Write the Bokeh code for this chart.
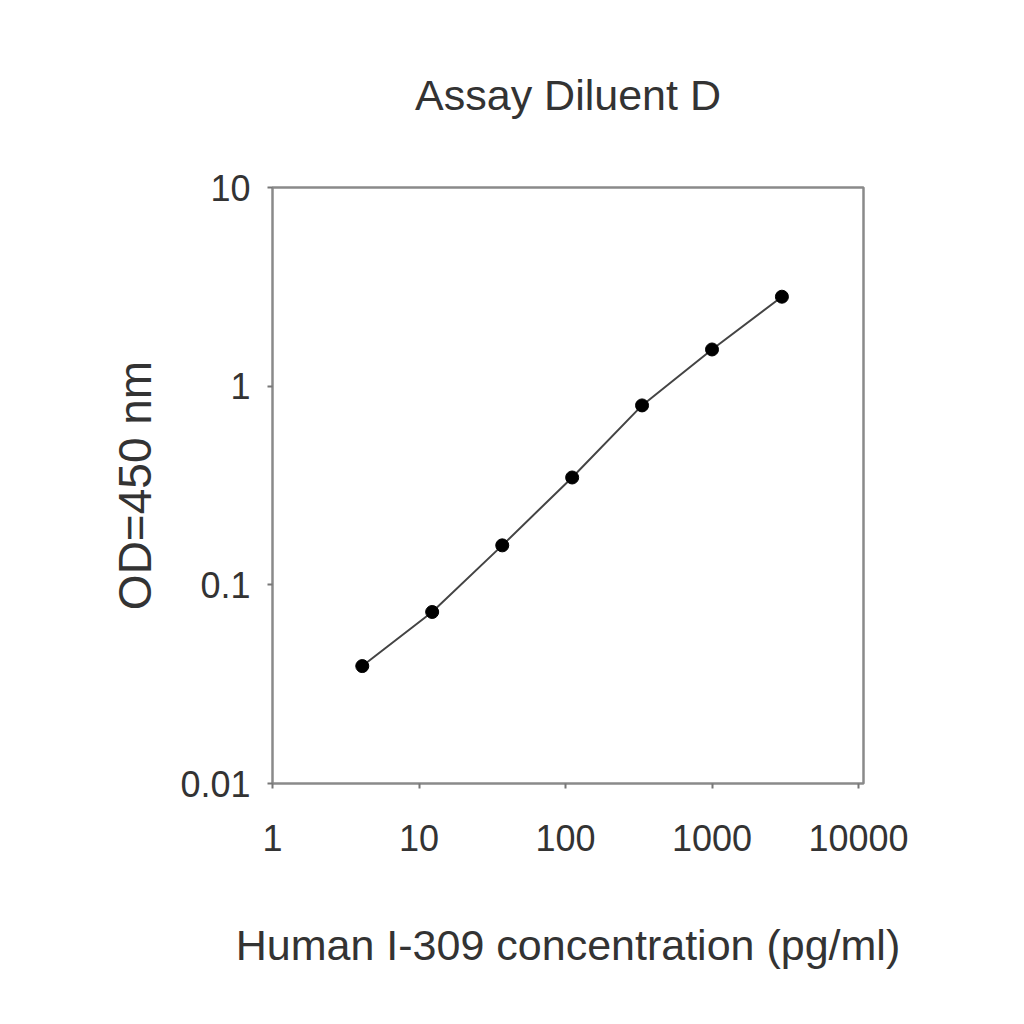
from bokeh.plotting import figure
from bokeh.models import FixedTicker, CustomJSTickFormatter, Range1d
from bokeh.embed import file_html
from bokeh.resources import INLINE

# Data
concentration = [4.1, 12.3, 37, 111, 333, 1000, 3000]
od450 = [0.039, 0.073, 0.158, 0.347, 0.80, 1.53, 2.82]

x_ticks = [1, 10, 100, 1000, 10000]
x_tick_labels = ["1", "10", "100", "1000", "10000"]
y_ticks = [0.01, 0.1, 1, 10]
y_tick_labels = ["0.01", "0.1", "1", "10"]

title_text = "Assay Diluent D"
x_label = "Human I-309 concentration (pg/ml)"
y_label = "OD=450 nm"

FONT = "Liberation Sans"
TXT = "#333333"

p = figure(
    x_axis_type="log", y_axis_type="log",
    x_range=Range1d(1, 10815), y_range=Range1d(0.01, 10),
    width=1010, height=1010,
    frame_width=591, frame_height=596,
    min_border_left=272, min_border_top=187,
    min_border_right=147, min_border_bottom=227,
    output_backend="svg", toolbar_location=None,
    title=title_text,
)

p.title.align = "center"
p.title.vertical_align = "top"
p.title.text_font = FONT
p.title.text_font_size = "43px"
p.title.text_font_style = "normal"
p.title.text_color = TXT
p.title.standoff = 133

p.outline_line_color = "#8a8a8a"
p.outline_line_width = 2.5
p.outline_line_alpha = 1.0
p.xgrid.visible = False
p.ygrid.visible = False
p.background_fill_color = "white"
p.border_fill_color = "white"

fmt_code = """
const i = tvals.findIndex(t => Math.abs(Math.log10(t) - Math.log10(tick)) < 1e-6);
return i >= 0 ? tlabs[i] : String(tick);
"""

p.xaxis.ticker = FixedTicker(ticks=x_ticks)
p.xaxis.formatter = CustomJSTickFormatter(args=dict(tvals=x_ticks, tlabs=x_tick_labels), code=fmt_code)
p.yaxis.ticker = FixedTicker(ticks=y_ticks)
p.yaxis.formatter = CustomJSTickFormatter(args=dict(tvals=y_ticks, tlabs=y_tick_labels), code=fmt_code)

for ax in (p.xaxis, p.yaxis):
    ax.axis_line_color = None
    ax.major_tick_in = 0
    ax.major_tick_out = 5
    ax.major_tick_line_color = "#777777"
    ax.major_tick_line_width = 2
    ax.minor_tick_line_color = None
    ax.major_label_text_font = FONT
    ax.major_label_text_font_size = "36px"
    ax.major_label_text_color = TXT
    ax.axis_label_text_font = FONT
    ax.axis_label_text_font_style = "normal"
    ax.axis_label_text_color = TXT

p.xaxis.axis_label = x_label
p.yaxis.axis_label = y_label
p.xaxis.axis_label_text_font_size = "43px"
p.yaxis.axis_label_text_font_size = "46px"
p.xaxis.major_label_standoff = 36
p.yaxis.major_label_standoff = 17
p.xaxis.axis_label_standoff = 67
p.yaxis.axis_label_standoff = 16

p.line(concentration, od450, line_color="#444444", line_width=2)
p.scatter(concentration, od450, size=13, fill_color="black", line_color="black")

open("out.html", "w").write(file_html(p, INLINE))
